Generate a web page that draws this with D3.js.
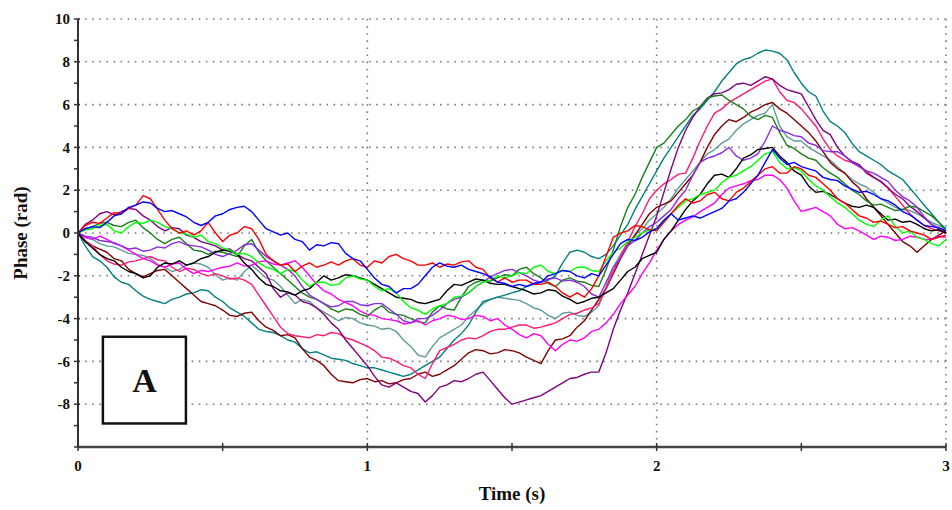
<!DOCTYPE html>
<html>
<head>
<meta charset="utf-8">
<script src="https://cdn.jsdelivr.net/npm/d3@7"></script>
<style>
  html, body { margin: 0; padding: 0; background: #fff; }
  svg { display: block; }
  .tick-label { font-family: "Liberation Serif", "Times New Roman", serif; font-weight: bold; font-size: 15px; fill: #111; }
  .axis-title { font-family: "Liberation Serif", "Times New Roman", serif; font-weight: bold; font-size: 19px; fill: #111; }
</style>
</head>
<body>
<div id="chart"></div>
<script>
// sampling grid: one sample every 0.025 s, 0 .. 3 s
const times = d3.range(121).map(i => +(i * 0.025).toFixed(3));

const yTicks = [-8, -6, -4, -2, 0, 2, 4, 6, 8, 10];
const xTicks = [0, 1, 2, 3];

// phase traces (rad)
const blue = [
  0, 0.2, 0.3, 0.25, 0.5, 0.8, 0.9, 1.2, 1.3, 1.45, 1.4, 1.15, 1.0, 1.05, 0.9, 0.75, 0.5, 0.35, 0.5, 0.8,
  0.9, 1.1, 1.2, 1.25, 1.0, 0.6, 0.2, 0.05, -0.1, 0.0, -0.3, -0.4, -0.8, -0.55, -0.6, -0.45, -0.5, -0.95, -1.2, -1.3,
  -1.7, -2.1, -2.4, -2.5, -2.8, -2.6, -2.6, -2.4, -2.0, -1.6, -1.4, -1.55, -1.6, -1.5, -1.7, -1.8, -1.9, -2.05, -2.3, -2.35,
  -2.5, -2.4, -2.5, -2.35, -2.3, -2.0, -1.9, -1.75, -1.8, -2.0, -2.1, -1.9, -2.0, -1.5, -1.0, -0.5, -0.3, -0.35, -0.2, 0.05,
  0.2, 0.6, 0.9, 0.6, 0.7, 0.8, 0.7, 0.85, 1.0, 1.15, 1.5, 1.6, 1.9, 2.3, 2.7, 3.3, 3.9, 3.5, 3.2, 3.3,
  3.1, 3.0, 2.9, 2.6, 2.5, 2.45, 2.2, 2.05, 1.9, 1.95, 1.8, 1.6, 1.5, 1.3, 1.0, 0.85, 0.6, 0.35, 0.3, 0.25,
  0.1];
const red = [
  0, 0.35, 0.5, 0.45, 0.7, 0.95, 0.9, 1.15, 1.3, 1.75, 1.6, 1.1, 0.6, 0.2, 0.0, 0.1, -0.1, 0.1, 0.5, 0.0,
  -0.4, -0.1, 0.0, 0.3, 0.2, -0.3, -1.0, -1.3, -1.5, -1.45, -1.8, -1.55, -1.4, -1.6, -1.5, -1.35, -1.5, -1.3, -1.2, -1.5,
  -1.6, -1.3, -1.4, -1.1, -1.0, -1.2, -1.3, -1.5, -1.5, -1.4, -1.6, -1.45, -1.5, -1.35, -1.3, -1.6, -1.7, -2.1, -2.3, -2.1,
  -2.3, -2.2, -2.2, -2.4, -2.4, -2.3, -2.5, -2.8, -3.0, -2.8, -3.0, -2.6, -2.0, -1.1, -0.2, 0.0, 0.1, 0.35, 0.3, 0.15,
  0.1, 0.5, 0.9, 1.3, 1.6, 1.4, 1.5, 1.8, 1.9, 1.6, 1.5, 1.9, 2.1, 2.4, 2.7, 3.0, 3.1, 2.8, 2.8, 3.1,
  3.0, 2.7, 2.6, 2.3, 2.0, 1.6, 1.4, 1.1, 0.8, 0.7, 0.5, 0.55, 0.4, 0.25, 0.3, 0.1, 0.0, -0.1, -0.3, -0.2,
  -0.1];
const lime = [
  0, 0.15, 0.2, 0.35, 0.4, 0.1, 0.0, 0.3, 0.5, 0.45, 0.6, 0.5, 0.3, 0.2, 0.0, -0.05, -0.2, -0.1, -0.4, -0.5,
  -0.7, -0.8, -1.0, -0.95, -1.1, -1.4, -1.6, -1.7, -1.9, -1.7, -1.8, -2.2, -2.5, -2.3, -2.3, -2.45, -2.4, -2.1, -2.0, -2.15,
  -2.2, -2.5, -2.7, -2.6, -2.8, -3.2, -3.5, -3.6, -3.8, -3.55, -3.4, -3.3, -3.0, -2.95, -2.8, -2.5, -2.3, -2.2, -2.0, -2.1,
  -2.0, -1.85, -1.9, -1.6, -1.5, -1.8, -1.9, -1.75, -1.8, -1.6, -1.6, -1.75, -1.8, -1.3, -0.9, -0.7, -0.4, -0.2, 0.0, 0.15,
  0.2, 0.6, 0.9, 1.2, 1.5, 1.6, 1.8, 1.9, 2.0, 2.35, 2.6, 2.7, 2.9, 3.1, 3.4, 3.7, 3.8, 3.3, 3.0, 3.05,
  2.9, 2.5, 2.2, 2.0, 1.7, 1.4, 1.2, 0.9, 0.6, 0.4, 0.3, 0.6, 0.8, 0.3, 0.0, 0.1, -0.2, -0.3, -0.5, -0.6,
  -0.3];
const black = [
  0, -0.4, -0.7, -1.0, -1.2, -1.3, -1.6, -1.8, -1.9, -2.1, -2.0, -1.6, -1.4, -1.45, -1.3, -1.5, -1.4, -1.2, -1.1, -0.9,
  -0.8, -0.85, -1.0, -1.4, -1.7, -2.1, -2.4, -2.5, -2.7, -2.75, -2.9, -2.7, -2.6, -2.3, -2.0, -2.2, -2.1, -1.95, -2.0, -2.1,
  -2.2, -2.4, -2.6, -2.8, -3.0, -3.05, -3.1, -3.25, -3.3, -3.2, -3.1, -2.7, -2.4, -2.45, -2.3, -2.15, -2.2, -2.35, -2.4, -2.4,
  -2.5, -2.6, -2.7, -2.85, -2.8, -2.65, -2.7, -2.95, -3.1, -3.3, -3.2, -3.05, -3.0, -2.8, -2.6, -2.2, -1.8, -1.6, -1.2, -1.05,
  -0.9, -0.3, 0.1, 0.6, 1.1, 1.5, 1.8, 2.3, 2.7, 2.75, 2.6, 3.0, 3.5, 3.65, 3.9, 3.95, 4.0, 3.6, 3.3, 2.9,
  2.7, 2.2, 1.9, 1.95, 1.8, 1.6, 1.4, 1.25, 1.2, 1.3, 1.2, 0.9, 0.6, 0.65, 0.5, 0.55, 0.4, 0.2, 0.1, 0.15,
  0.0];
const darkGreen = [
  0, 0.2, 0.3, 0.45, 0.5, 0.35, 0.3, 0.5, 0.6, 0.25, 0.0, -0.3, -0.5, -0.3, -0.2, -0.5, -0.8, -0.85, -1.0, -0.85,
  -0.9, -1.0, -1.1, -0.6, -0.3, -0.9, -1.3, -1.6, -1.9, -2.2, -2.5, -2.8, -3.0, -3.1, -3.3, -3.55, -3.7, -3.55, -3.6, -3.8,
  -3.9, -3.6, -3.4, -3.7, -3.8, -3.85, -4.0, -4.15, -4.2, -3.7, -3.4, -3.55, -3.6, -3.0, -2.5, -2.3, -2.2, -2.25, -2.1, -1.95,
  -2.0, -1.7, -1.6, -1.9, -2.1, -2.35, -2.5, -2.2, -2.1, -2.25, -2.3, -2.45, -2.5, -1.7, -0.8, 0.3, 1.2, 1.8, 2.6, 3.3,
  4.0, 4.2, 4.6, 5.0, 5.3, 5.7, 5.9, 6.3, 6.4, 6.45, 6.2, 6.0, 5.8, 5.45, 5.3, 5.5, 5.4, 4.7, 4.1, 3.95,
  3.7, 3.5, 3.4, 3.05, 2.8, 2.6, 2.3, 2.0, 1.8, 1.5, 1.3, 1.35, 1.2, 1.05, 1.1, 1.25, 1.2, 1.0, 0.8, 0.5,
  0.1];
const magenta = [
  0, -0.2, -0.3, -0.15, -0.3, -0.5, -0.6, -0.8, -1.0, -1.2, -1.3, -1.5, -1.6, -1.45, -1.4, -1.7, -1.9, -1.75, -1.8, -1.7,
  -1.6, -1.55, -1.4, -1.55, -1.5, -1.35, -1.3, -1.45, -1.5, -1.4, -1.3, -1.6, -2.0, -2.4, -2.7, -2.85, -3.1, -3.25, -3.4, -3.65,
  -3.8, -3.85, -4.0, -4.05, -4.1, -4.25, -4.2, -4.1, -4.3, -4.1, -4.0, -3.85, -3.9, -4.05, -4.0, -3.85, -3.9, -4.1, -4.0, -4.3,
  -4.5, -4.75, -4.9, -4.7, -4.8, -5.2, -5.5, -5.2, -5.0, -5.05, -4.9, -4.6, -4.5, -4.2, -3.8, -3.3, -2.9, -2.5, -1.9, -1.4,
  -0.8, -0.3, 0.1, 0.4, 0.6, 0.75, 1.0, 1.2, 1.4, 1.8, 2.1, 2.2, 2.3, 2.45, 2.5, 2.7, 2.7, 2.5, 2.1, 1.5,
  1.0, 1.1, 1.2, 1.0, 0.8, 0.4, 0.2, 0.25, 0.1, -0.1, -0.3, -0.15, -0.2, -0.35, -0.3, -0.15, -0.2, -0.3, -0.3, -0.15,
  -0.2];
const purple = [
  0, 0.4, 0.6, 0.9, 1.0, 0.85, 1.0, 1.15, 1.1, 0.8, 0.6, 0.3, 0.1, 0.25, 0.2, -0.1, -0.2, -0.4, -0.5, -0.6,
  -0.8, -0.75, -1.0, -1.2, -1.3, -1.6, -1.9, -2.6, -3.0, -2.8, -2.9, -3.2, -3.3, -3.5, -3.8, -4.2, -4.5, -5.0, -5.4, -5.8,
  -6.2, -6.7, -7.1, -7.2, -7.0, -7.2, -7.4, -7.5, -7.9, -7.6, -7.2, -7.1, -6.9, -6.95, -6.8, -6.6, -6.5, -6.9, -7.3, -7.7,
  -8.0, -7.9, -7.8, -7.7, -7.6, -7.4, -7.2, -7.0, -6.8, -6.75, -6.6, -6.5, -6.5, -5.6, -4.5, -3.6, -2.8, -1.9, -1.0, -0.1,
  0.8, 1.9, 3.0, 4.0, 4.8, 5.4, 5.9, 6.3, 6.5, 6.55, 6.7, 6.95, 7.0, 6.9, 7.1, 7.3, 7.2, 6.9, 6.7, 6.6,
  6.5, 5.9, 5.3, 4.8, 4.6, 4.0, 3.6, 3.35, 3.2, 2.8, 2.6, 2.4, 2.1, 1.8, 1.6, 1.25, 1.0, 0.7, 0.4, 0.2,
  0.0];
const violet = [
  0, -0.15, -0.2, -0.35, -0.4, -0.45, -0.6, -0.75, -0.7, -0.85, -0.8, -0.65, -0.7, -0.5, -0.4, -0.55, -0.6, -0.65, -0.8, -1.0,
  -1.1, -0.95, -0.8, -0.55, -0.5, -0.8, -1.1, -1.3, -1.5, -1.7, -2.0, -2.5, -2.9, -3.1, -3.3, -3.45, -3.4, -3.2, -3.2, -3.35,
  -3.4, -3.3, -3.3, -3.55, -3.8, -4.1, -4.2, -4.0, -4.0, -3.85, -3.6, -3.3, -3.1, -3.0, -2.8, -2.5, -2.3, -2.05, -1.9, -1.75,
  -1.7, -1.85, -2.0, -2.2, -2.3, -2.15, -2.1, -2.25, -2.2, -2.3, -2.5, -2.85, -3.0, -2.3, -1.6, -1.2, -0.6, -0.35, 0.0, 0.3,
  0.5, 0.8, 1.1, 1.6, 2.0, 2.7, 3.3, 3.5, 3.6, 3.75, 4.0, 3.6, 3.4, 3.5, 3.7, 4.3, 5.0, 4.8, 4.7, 4.55,
  4.5, 4.2, 4.1, 3.85, 3.8, 3.8, 3.6, 3.3, 3.1, 2.9, 2.8, 2.6, 2.4, 2.0, 1.7, 1.5, 1.2, 0.75, 0.4, 0.2,
  0.1];
const teal = [
  0, -0.6, -1.1, -1.3, -1.6, -2.05, -2.3, -2.4, -2.7, -2.95, -3.1, -3.2, -3.3, -3.1, -3.0, -2.85, -2.8, -2.65, -2.7, -3.0,
  -3.2, -3.5, -3.7, -3.9, -4.2, -4.5, -4.6, -4.65, -4.8, -5.0, -5.1, -5.4, -5.6, -5.55, -5.7, -5.85, -5.9, -5.95, -6.1, -6.2,
  -6.3, -6.3, -6.4, -6.5, -6.6, -6.7, -6.6, -6.4, -6.2, -6.0, -5.8, -5.4, -5.0, -4.7, -4.3, -3.7, -3.2, -3.1, -3.0, -2.9,
  -2.8, -2.7, -2.5, -2.4, -2.3, -2.2, -2.0, -1.4, -0.9, -0.8, -0.9, -1.1, -1.2, -1.0, -0.6, -0.1, 0.4, 1.1, 1.7, 2.3,
  2.9, 3.5, 4.0, 4.5, 5.0, 5.5, 5.8, 6.2, 6.6, 7.1, 7.5, 7.9, 8.1, 8.2, 8.4, 8.55, 8.5, 8.4, 8.1, 7.5,
  7.0, 6.6, 6.4, 5.7, 5.2, 5.0, 4.7, 4.2, 3.8, 3.6, 3.4, 3.2, 2.9, 2.7, 2.5, 2.1, 1.7, 1.3, 0.9, 0.5,
  0.2];
const cadet = [
  0, -0.2, -0.3, -0.5, -0.6, -0.65, -0.8, -0.95, -1.0, -1.05, -1.2, -1.45, -1.6, -1.8, -1.7, -1.5, -1.4, -1.45, -1.6, -1.95,
  -2.2, -2.1, -2.2, -1.8, -1.5, -1.8, -2.1, -2.2, -2.5, -2.9, -3.3, -3.1, -3.2, -3.5, -3.7, -3.9, -4.1, -3.95, -4.0, -4.2,
  -4.3, -4.35, -4.5, -4.45, -4.6, -5.0, -5.3, -5.7, -5.8, -5.3, -4.9, -4.7, -4.5, -4.3, -3.9, -3.6, -3.3, -3.1, -3.0, -3.05,
  -3.1, -3.15, -3.3, -3.5, -3.6, -3.85, -4.0, -3.75, -3.7, -3.85, -3.9, -3.7, -3.4, -2.5, -1.6, -1.0, -0.5, -0.1, 0.2, 0.6,
  0.9, 1.2, 1.6, 2.1, 2.5, 2.9, 3.3, 3.7, 3.9, 4.2, 4.4, 4.8, 5.1, 5.3, 5.5, 5.6, 6.0, 5.0, 4.5, 4.3,
  4.3, 4.0, 3.8, 3.6, 3.4, 3.1, 2.8, 2.5, 2.3, 2.15, 1.9, 1.6, 1.4, 1.2, 1.1, 1.05, 0.9, 0.7, 0.5, 0.35,
  0.2];
const maroon = [
  0, -0.4, -0.6, -0.75, -0.9, -1.2, -1.3, -1.7, -1.9, -2.05, -1.9, -1.75, -1.7, -2.0, -2.3, -2.6, -2.9, -3.2, -3.3, -3.4,
  -3.6, -3.85, -3.9, -3.75, -3.7, -4.1, -4.4, -4.55, -4.8, -4.75, -4.9, -5.4, -5.8, -5.95, -6.2, -6.6, -6.9, -6.95, -7.0, -6.85,
  -6.8, -6.95, -6.9, -7.05, -7.0, -6.85, -6.8, -6.6, -6.5, -6.7, -6.6, -6.4, -6.2, -5.9, -5.6, -5.45, -5.5, -5.65, -5.6, -5.45,
  -5.5, -5.6, -5.8, -5.95, -6.1, -5.5, -5.0, -4.95, -4.8, -4.4, -4.1, -3.6, -3.1, -2.6, -1.9, -1.2, -0.6, -0.1, 0.4, 0.9,
  1.2, 1.35, 1.5, 1.9, 2.3, 2.7, 3.3, 4.0, 4.6, 5.0, 5.3, 5.2, 5.4, 5.65, 5.8, 6.0, 6.1, 5.8, 5.6, 5.3,
  5.0, 4.7, 4.3, 3.8, 3.3, 3.0, 2.8, 2.4, 2.1, 1.6, 1.2, 0.8, 0.4, 0.0, -0.4, -0.6, -0.9, -0.6, -0.3, -0.1,
  0.1];
const pink = [
  0, -0.35, -0.6, -1.0, -1.3, -1.45, -1.5, -1.35, -1.3, -1.2, -1.1, -1.25, -1.3, -1.6, -1.8, -1.65, -1.7, -1.9, -2.0, -1.9,
  -2.0, -2.15, -2.1, -2.2, -2.4, -2.9, -3.4, -3.9, -4.4, -4.7, -4.8, -4.85, -4.9, -4.75, -4.8, -4.65, -4.7, -4.9, -5.0, -5.15,
  -5.3, -5.5, -5.8, -5.85, -6.0, -6.2, -6.3, -6.6, -6.8, -6.1, -5.5, -5.35, -5.2, -5.0, -4.9, -4.95, -4.8, -4.6, -4.5, -4.5,
  -4.4, -4.3, -4.3, -4.45, -4.4, -4.3, -4.2, -4.0, -3.8, -3.75, -3.6, -3.5, -3.3, -2.6, -1.8, -1.1, -0.4, 0.3, 0.9, 1.6,
  2.0, 2.3, 2.5, 2.75, 2.8, 3.5, 4.3, 5.0, 5.6, 5.8, 6.1, 6.3, 6.5, 6.7, 6.9, 7.1, 7.2, 6.6, 6.2, 6.1,
  5.8, 5.4, 5.0, 4.4, 3.9, 3.6, 3.4, 3.3, 3.1, 2.9, 2.6, 2.4, 2.1, 1.7, 1.3, 0.9, 0.6, 0.35, 0.2, 0.1,
  0.0];

const series = [
  { values: cadet, color: "#5f9a9a" },
  { values: teal, color: "#008080" },
  { values: maroon, color: "#800000" },
  { values: pink, color: "#ff1a75" },
  { values: purple, color: "#800080" },
  { values: darkGreen, color: "#1a7f1a" },
  { values: magenta, color: "#ff00ff" },
  { values: violet, color: "#8a2be2" },
  { values: black, color: "#000000" },
  { values: lime, color: "#00ff00" },
  { values: red, color: "#ff0000" },
  { values: blue, color: "#0000ff" }
];

const width = 952, height = 510;
const margin = { top: 19, right: 6, bottom: 63, left: 78 };

const svg = d3.select("#chart").append("svg")
  .attr("width", width)
  .attr("height", height);

const x = d3.scaleLinear().domain([0, 3]).range([margin.left, width - margin.right]);
const y = d3.scaleLinear().domain([-10, 10]).range([height - margin.bottom, margin.top]);

// dotted grid
svg.append("g").selectAll("line")
  .data(yTicks)
  .enter().append("line")
  .attr("x1", x(0)).attr("x2", x(3))
  .attr("y1", d => y(d)).attr("y2", d => y(d))
  .attr("stroke", "#7a7a7a")
  .attr("stroke-width", 1.6)
  .attr("stroke-dasharray", "1.6,5.5");

svg.append("g").selectAll("line")
  .data(xTicks.slice(1))
  .enter().append("line")
  .attr("x1", d => x(d)).attr("x2", d => x(d))
  .attr("y1", y(10)).attr("y2", y(-10))
  .attr("stroke", "#7a7a7a")
  .attr("stroke-width", 1.6)
  .attr("stroke-dasharray", "1.6,5.5");

// traces
const line = d3.line()
  .x((d, i) => x(times[i]))
  .y(d => y(d));

svg.append("g").selectAll("path")
  .data(series)
  .enter().append("path")
  .attr("d", d => line(d.values))
  .attr("fill", "none")
  .attr("stroke", d => d.color)
  .attr("stroke-width", 1.4)
  .attr("stroke-linejoin", "round");

// y axis
const yAxis = svg.append("g");
yAxis.append("line")
  .attr("x1", x(0)).attr("x2", x(0))
  .attr("y1", y(10)).attr("y2", y(-10))
  .attr("stroke", "#333").attr("stroke-width", 2);
yAxis.selectAll(".minor")
  .data(d3.range(-10, 11, 1))
  .enter().append("line")
  .attr("x1", x(0) - 4).attr("x2", d => x(0) + (d % 2 === 0 ? 2 : 0))
  .attr("y1", d => y(d)).attr("y2", d => y(d))
  .attr("stroke", "#333").attr("stroke-width", 1.5);
yAxis.selectAll("text")
  .data(yTicks)
  .enter().append("text")
  .attr("class", "tick-label")
  .attr("x", x(0) - 8)
  .attr("y", d => y(d))
  .attr("dy", "0.35em")
  .attr("text-anchor", "end")
  .text(d => d);

// x axis
const xAxis = svg.append("g");
xAxis.append("line")
  .attr("x1", x(0)).attr("x2", x(3))
  .attr("y1", y(-10)).attr("y2", y(-10))
  .attr("stroke", "#444").attr("stroke-width", 2.5);
xAxis.selectAll(".tk")
  .data(d3.range(0, 3.01, 0.5))
  .enter().append("line")
  .attr("x1", d => x(d)).attr("x2", d => x(d))
  .attr("y1", y(-10) - 4).attr("y2", y(-10) + 4)
  .attr("stroke", "#333").attr("stroke-width", 1.5);
xAxis.selectAll("text")
  .data(xTicks)
  .enter().append("text")
  .attr("class", "tick-label")
  .attr("x", d => x(d))
  .attr("y", y(-10) + 24)
  .attr("text-anchor", "middle")
  .text(d => d);

// axis titles
svg.append("text")
  .attr("class", "axis-title")
  .attr("transform", `translate(27, ${y(0)}) rotate(-90)`)
  .attr("text-anchor", "middle")
  .text("Phase (rad)");

svg.append("text")
  .attr("class", "axis-title")
  .attr("x", (x(0) + x(3)) / 2)
  .attr("y", 500)
  .attr("text-anchor", "middle")
  .text("Time (s)");

// panel label
const panel = svg.append("g");
panel.append("rect")
  .attr("x", x(0.086)).attr("y", y(-4.85))
  .attr("width", x(0.373) - x(0.086))
  .attr("height", y(-8.9) - y(-4.85))
  .attr("fill", "#fff")
  .attr("stroke", "#111")
  .attr("stroke-width", 2.5);
panel.append("text")
  .attr("x", x(0.23)).attr("y", y(-6.88))
  .attr("dy", "0.35em")
  .attr("text-anchor", "middle")
  .style("font-family", "'Liberation Serif', 'Times New Roman', serif")
  .style("font-weight", "bold")
  .style("font-size", "34px")
  .attr("fill", "#111")
  .text("A");
</script>
</body>
</html>
